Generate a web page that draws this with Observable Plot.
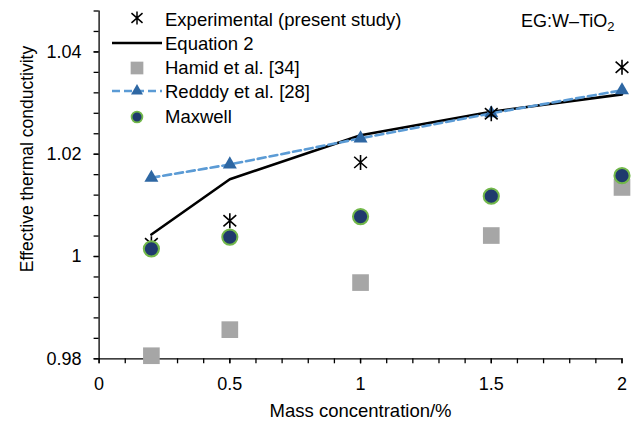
<!DOCTYPE html>
<html><head><meta charset="utf-8">
<script src="https://cdn.jsdelivr.net/npm/d3@7"></script>
<script src="https://cdn.jsdelivr.net/npm/@observablehq/plot@0.6"></script>
<style>body{margin:0;background:#fff;font-family:"Liberation Sans",Arial,sans-serif}</style>
</head><body><div id="chart"></div>
<script>
// ---- data ----
const conc = [0.2, 0.5, 1.0, 1.5, 2.0];
const experimental = [1.0025, 1.0070, 1.0184, 1.0279, 1.0370];
const equation2 = [1.0043, 1.0151, 1.0237, 1.0283, 1.0317];
const hamid = [0.9806, 0.9857, 0.9949, 1.0041, 1.0135];
const reddy = [1.0154, 1.0180, 1.0231, 1.0280, 1.0325];
const maxwell = [1.0015, 1.0038, 1.0078, 1.0118, 1.0158];
const xMajorTicks = [0, 0.5, 1, 1.5, 2];
const xMinorTicks = [0,0.1,0.2,0.3,0.4,0.5,0.6,0.7,0.8,0.9,1,1.1,1.2,1.3,1.4,1.5,1.6,1.7,1.8,1.9,2];
const yMajorTicks = [0.98, 1, 1.02, 1.04];
const yMinorTicks = [0.98,0.984,0.988,0.992,0.996,1,1.004,1.008,1.012,1.016,1.02,1.024,1.028,1.032,1.036,1.04,1.044,1.048];
const legendLabels = ["Experimental (present study)", "Equation 2", "Hamid et al. [34]", "Redddy et al. [28]", "Maxwell"];
const xLabel = "Mass concentration/%";
const yLabel = "Effective thermal conductivity";

const rows = s => conc.map((x, i) => ({x, y: s[i]}));

// custom asterisk symbol (vertical bar + X)
const asterisk = {draw(ctx, size){
  const r = Math.sqrt(size/Math.PI), a = 0.85*r, b = 0.75*r;
  ctx.moveTo(0,-r); ctx.lineTo(0,r);
  ctx.moveTo(-a,-b); ctx.lineTo(a,b);
  ctx.moveTo(-a,b); ctx.lineTo(a,-b);
}};

const FONT = "Liberation Sans, Arial, Helvetica, sans-serif";
const navy = "#1f3a6d", green = "#72b84a", grey = "#a6a6a6", triBlue = "#2e67a3", dashBlue = "#5b9bd5";

const chart = Plot.plot({
  width: 633, height: 422,
  marginLeft: 98.6, marginRight: 11.5, marginTop: 10.5, marginBottom: 63.7,
  style: {fontFamily: FONT, fontSize: "18px", color: "#000", background: "#fff"},
  x: {domain: [0, 2]},
  y: {domain: [0.98, 1.048]},
  marks: [
    Plot.axisX({ticks: xMinorTicks, tickSize: 5, tickFormat: () => "", label: null, strokeWidth: 1.3}),
    Plot.axisX({ticks: xMajorTicks, tickSize: 5, tickPadding: 13, tickFormat: d => String(d), label: null, fontSize: 18, strokeWidth: 1.3}),
    Plot.axisY({ticks: yMinorTicks, tickSize: 5, tickFormat: () => "", label: null, strokeWidth: 1.3}),
    Plot.axisY({ticks: yMajorTicks, tickSize: 5, tickPadding: 12.6, tickFormat: d => String(d), label: null, fontSize: 18, strokeWidth: 1.3}),
    Plot.ruleY([0.98], {stroke: "#000", strokeWidth: 1.3}),
    Plot.ruleX([0], {stroke: "#000", strokeWidth: 1.3}),
    Plot.line(rows(equation2), {x: "x", y: "y", stroke: "#000", strokeWidth: 2.6}),
    Plot.line(rows(reddy), {x: "x", y: "y", stroke: dashBlue, strokeWidth: 2.6, strokeDasharray: "8,4"}),
    Plot.dot(rows(reddy), {x: "x", y: "y", symbol: "triangle", r: 5.2, fill: triBlue, stroke: "none"}),
    Plot.dot(rows(hamid), {x: "x", y: "y", symbol: "square", r: 9.4, fill: grey, stroke: "none"}),
    Plot.dot(rows(experimental), {x: "x", y: "y", symbol: asterisk, r: 7.5, fill: "none", stroke: "#000", strokeWidth: 1.6}),
    Plot.dot(rows(maxwell), {x: "x", y: "y", symbol: "circle", r: 7.6, fill: navy, stroke: green, strokeWidth: 2}),
    Plot.text([xLabel], {frameAnchor: "bottom", dy: 58, fontSize: 18.5, fill: "#000"})
  ]
});
document.getElementById("chart").appendChild(chart);

const svg = d3.select(chart);

// y axis title (pixel layout)
svg.append("text")
  .attr("transform", "translate(27.2,159) rotate(-90)")
  .attr("text-anchor", "middle").attr("dy", "0.32em")
  .attr("font-family", FONT).attr("font-size", 17.5).attr("fill", "#000")
  .text(yLabel);

// ---- legend (pixel layout inside the plot area) ----
const lg = svg.append("g").attr("font-family", FONT).attr("font-size", 18.5).attr("fill", "#000").attr("text-anchor", "start");
const symX = 137, textX = 165, baselines = [26, 50, 74, 98, 123], symY = [18, 43, 68, 91, 117];
legendLabels.forEach((t, i) => {
  lg.append("text").attr("x", textX).attr("y", baselines[i]).attr("text-anchor", "start").text(t);
});
// 0 experimental
lg.append("path").attr("transform", `translate(${symX},${symY[0]})`)
  .attr("d", d3.symbol(asterisk, Math.PI*6.5*6.5)()).attr("fill", "none").attr("stroke", "#000").attr("stroke-width", 1.5);
// 1 equation 2
lg.append("line").attr("x1", 112).attr("x2", 162).attr("y1", symY[1]).attr("y2", symY[1]).attr("stroke", "#000").attr("stroke-width", 2.6);
// 2 hamid
lg.append("path").attr("transform", `translate(${symX},${symY[2]})`)
  .attr("d", d3.symbol(d3.symbolSquare, 12.7*12.7)()).attr("fill", grey);
// 3 reddy
lg.append("line").attr("x1", 112).attr("x2", 162).attr("y1", symY[3]).attr("y2", symY[3]).attr("stroke", dashBlue).attr("stroke-width", 2.6).attr("stroke-dasharray", "8,4");
lg.append("path").attr("transform", `translate(${symX},${symY[3]})`)
  .attr("d", d3.symbol(d3.symbolTriangle, 62)()).attr("fill", triBlue);
// 4 maxwell
lg.append("circle").attr("cx", symX).attr("cy", symY[4]).attr("r", 5.4).attr("fill", navy).attr("stroke", green).attr("stroke-width", 1.8);

// annotation
const ann = svg.append("text").attr("x", 521).attr("y", 27).attr("text-anchor", "start")
  .attr("font-family", FONT).attr("font-size", 18).attr("fill", "#000");
ann.append("tspan").text("EG:W\u2013TiO");
ann.append("tspan").attr("dy", 4).attr("font-size", 13).text("2");
</script>
</body></html>
